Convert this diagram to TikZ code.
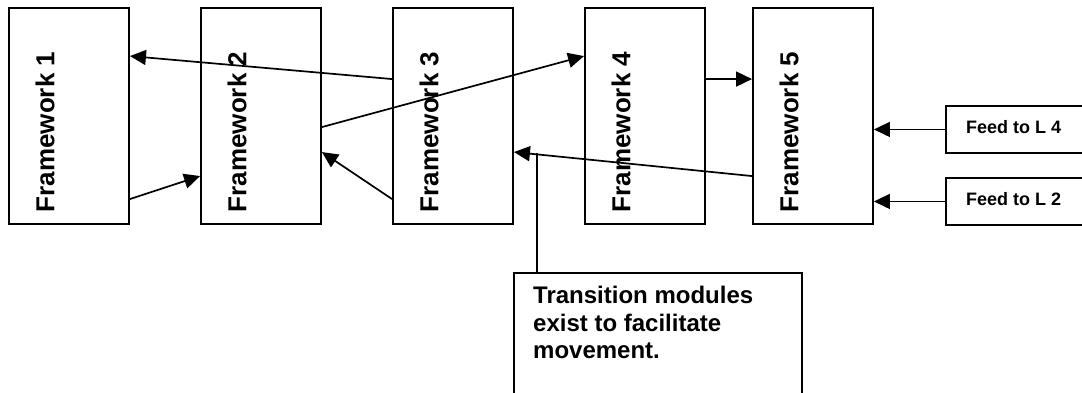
\documentclass[tikz,border=0pt]{standalone}
\usepackage{fontspec}
\setmainfont{Liberation Sans}
\usetikzlibrary{arrows.meta}
\begin{document}
\begin{tikzpicture}[x=1pt,y=-1pt,
  fwbox/.style={draw,line width=1.9pt,minimum width=120pt,minimum height=216pt,inner sep=0pt},
  fwtext/.style={rotate=90,inner sep=0pt,font=\fontsize{26}{30}\selectfont\bfseries},
  feedbox/.style={draw,line width=1.9pt,minimum width=160pt,minimum height=47pt,inner sep=0pt,anchor=north west},
  feedtext/.style={anchor=base west,inner sep=0pt,font=\fontsize{18}{21}\selectfont\bfseries},
  link/.style={line width=1.7pt,-{Triangle[length=16pt,width=15pt]}},
  plain/.style={line width=1.7pt}]
\clip (0,0) rectangle (1082,392);
\useasboundingbox (0,0) rectangle (1082,392);

% framework columns
\node[fwbox] (f1) at (69,116) {};
\node[fwbox] (f2) at (261,116) {};
\node[fwbox] (f3) at (453,116) {};
\node[fwbox] (f4) at (645,116) {};
\node[fwbox] (f5) at (813,116) {};
\node[fwtext] (t1) at (45,132) {Framework 1};
\node[fwtext] (t2) at (237,132) {Framework 2};
\node[fwtext] (t3) at (429,132) {Framework 3};
\node[fwtext] (t4) at (621,132) {Framework 4};
\node[fwtext] (t5) at (789,132) {Framework 5};

% feeds on the right
\node[feedbox] (l4) at (945,105) {};
\node[feedbox] (l2) at (945,177) {};
\node[feedtext] (l4t) at (966,133) {Feed to L 4};
\node[feedtext] (l2t) at (966,205) {Feed to L 2};

% note box
\node[draw,line width=1.9pt,anchor=north west,minimum width=288pt,minimum height=160pt,inner sep=0pt] (note) at (513,272) {};
\node[anchor=north west,inner sep=0pt,align=left,font=\fontsize{24}{27.5}\selectfont\bfseries] (notet) at (533,286)
  {Transition modules\\exist to facilitate\\movement.};
\coordinate (hook) at (537,153);

% links between frameworks
\draw[link] ([yshift=-72pt]f3.north west) -- ([yshift=-49pt]f1.north east);
\draw[link] ([yshift=-120pt]f2.north east) -- ([yshift=-49pt]f4.north west);
\draw[link] ([yshift=-192pt]f1.north east) -- ([yshift=-169pt]f2.north west);
\draw[link] ([yshift=-192pt]f3.north west) -- ([yshift=-145pt]f2.north east);
\draw[link] ([yshift=-72pt]f4.north east) -- ([yshift=-72pt]f5.north west);
\draw[link] ([yshift=-169pt]f5.north west) -- ([yshift=-145pt]f3.north east);
\draw[link] (l4.west) -- (l4.west -| f5.east);
\draw[link] (l2.west) -- (l2.west -| f5.east);
\draw[plain] (note.north west -| hook) -- (hook);
\end{tikzpicture}
\end{document}
